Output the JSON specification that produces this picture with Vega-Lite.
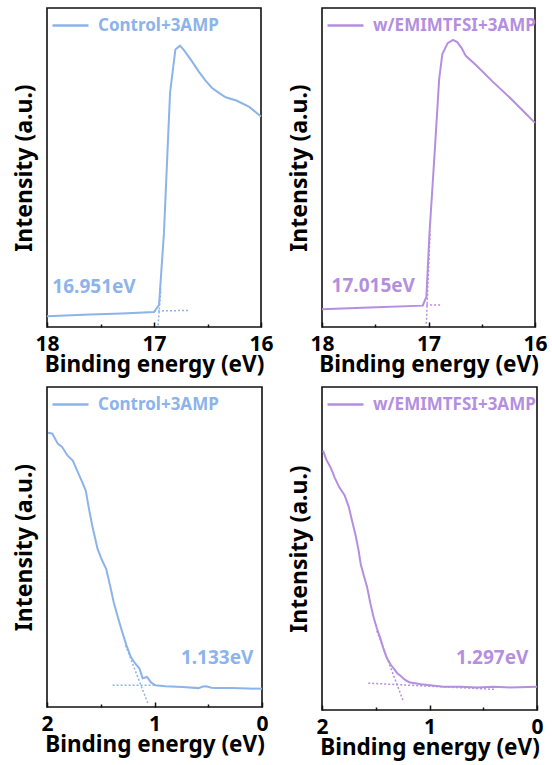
{
  "$schema": "https://vega.github.io/schema/vega-lite/v6.json",
  "padding": {"left": 12, "top": 5, "right": 4, "bottom": 2},
  "background": "white",
  "columns": 2,
  "spacing": {"row": 60, "column": 60},
  "bounds": "flush",
  "resolve": {"scale": {"x": "independent", "y": "independent", "color": "independent"}, "legend": {"color": "independent"}},
  "config": {
    "font": "Noto Sans",
    "view": {"stroke": "#111", "strokeWidth": 1.6},
    "axis": {"grid": false, "domain": false, "labelFont": "Noto Sans", "labelFontSize": 21, "labelFontWeight": "bold", "labelColor": "black", "titleFont": "Noto Sans", "titleFontSize": 22.5, "titleFontWeight": "bold", "titleColor": "black", "tickColor": "#111", "tickWidth": 1.5},
    "axisX": {"labelPadding": 11, "titlePadding": -3, "labelFlush": false, "labelOverlap": false},
    "axisY": {"labels": false, "ticks": false, "titlePadding": 11, "titleFontSize": 23},
    "legend": {"orient": "none", "legendX": 4, "legendY": -2, "padding": 0, "title": null, "labelFontSize": 17, "labelFont": "Noto Sans", "labelFontWeight": "bold", "labelLimit": 0, "symbolType": "stroke", "symbolSize": 1296, "symbolStrokeWidth": 2.5, "labelOffset": 8}
  },
  "datasets": {
    "c1": [
      {"be": 18.0, "i": 3.4, "s": "Control+3AMP"},
      {"be": 17.6, "i": 3.9, "s": "Control+3AMP"},
      {"be": 17.3, "i": 4.2, "s": "Control+3AMP"},
      {"be": 17.0, "i": 4.7, "s": "Control+3AMP"},
      {"be": 16.953, "i": 6.9, "s": "Control+3AMP"},
      {"be": 16.907, "i": 29.5, "s": "Control+3AMP"},
      {"be": 16.85, "i": 73.4, "s": "Control+3AMP"},
      {"be": 16.80, "i": 87.0, "s": "Control+3AMP"},
      {"be": 16.757, "i": 88.2, "s": "Control+3AMP"},
      {"be": 16.72, "i": 86.8, "s": "Control+3AMP"},
      {"be": 16.65, "i": 83.5, "s": "Control+3AMP"},
      {"be": 16.58, "i": 80.0, "s": "Control+3AMP"},
      {"be": 16.52, "i": 77.3, "s": "Control+3AMP"},
      {"be": 16.46, "i": 75.0, "s": "Control+3AMP"},
      {"be": 16.39, "i": 73.3, "s": "Control+3AMP"},
      {"be": 16.33, "i": 72.0, "s": "Control+3AMP"},
      {"be": 16.23, "i": 71.0, "s": "Control+3AMP"},
      {"be": 16.11, "i": 69.0, "s": "Control+3AMP"},
      {"be": 16.0, "i": 66.0, "s": "Control+3AMP"}
    ],
    "f1": [
      {"be": 17.0, "i": 5.0, "seg": "h"},
      {"be": 16.68, "i": 5.2, "seg": "h"},
      {"be": 16.935, "i": 12.0, "seg": "v"},
      {"be": 16.962, "i": 0.5, "seg": "v"}
    ],
    "l1": [{"be": 17.95, "i": 12.5, "t": "16.951eV"}],
    "c2": [
      {"be": 18.0, "i": 5.6, "s": "w/EMIMTFSI+3AMP"},
      {"be": 17.49, "i": 6.2, "s": "w/EMIMTFSI+3AMP"},
      {"be": 17.055, "i": 6.7, "s": "w/EMIMTFSI+3AMP"},
      {"be": 17.02, "i": 9.4, "s": "w/EMIMTFSI+3AMP"},
      {"be": 16.99, "i": 29.8, "s": "w/EMIMTFSI+3AMP"},
      {"be": 16.94, "i": 55.8, "s": "w/EMIMTFSI+3AMP"},
      {"be": 16.90, "i": 77.7, "s": "w/EMIMTFSI+3AMP"},
      {"be": 16.87, "i": 85.6, "s": "w/EMIMTFSI+3AMP"},
      {"be": 16.82, "i": 89.0, "s": "w/EMIMTFSI+3AMP"},
      {"be": 16.77, "i": 90.0, "s": "w/EMIMTFSI+3AMP"},
      {"be": 16.73, "i": 89.3, "s": "w/EMIMTFSI+3AMP"},
      {"be": 16.69, "i": 87.5, "s": "w/EMIMTFSI+3AMP"},
      {"be": 16.65, "i": 85.0, "s": "w/EMIMTFSI+3AMP"},
      {"be": 16.55, "i": 82.0, "s": "w/EMIMTFSI+3AMP"},
      {"be": 16.40, "i": 77.0, "s": "w/EMIMTFSI+3AMP"},
      {"be": 16.24, "i": 72.0, "s": "w/EMIMTFSI+3AMP"},
      {"be": 16.12, "i": 68.0, "s": "w/EMIMTFSI+3AMP"},
      {"be": 16.0, "i": 64.0, "s": "w/EMIMTFSI+3AMP"}
    ],
    "f2": [
      {"be": 17.06, "i": 6.9, "seg": "h"},
      {"be": 16.89, "i": 6.9, "seg": "h"},
      {"be": 16.985, "i": 30.0, "seg": "v"},
      {"be": 17.02, "i": 1.0, "seg": "v"}
    ],
    "l2": [{"be": 17.91, "i": 12.8, "t": "17.015eV"}],
    "c3": [
      {"be": 1.99, "i": 85.7, "s": "Control+3AMP"},
      {"be": 1.95, "i": 85.4, "s": "Control+3AMP"},
      {"be": 1.90, "i": 82.3, "s": "Control+3AMP"},
      {"be": 1.86, "i": 81.3, "s": "Control+3AMP"},
      {"be": 1.81, "i": 78.6, "s": "Control+3AMP"},
      {"be": 1.76, "i": 77.0, "s": "Control+3AMP"},
      {"be": 1.70, "i": 72.4, "s": "Control+3AMP"},
      {"be": 1.64, "i": 67.7, "s": "Control+3AMP"},
      {"be": 1.61, "i": 62.0, "s": "Control+3AMP"},
      {"be": 1.58, "i": 56.8, "s": "Control+3AMP"},
      {"be": 1.53, "i": 49.5, "s": "Control+3AMP"},
      {"be": 1.49, "i": 46.0, "s": "Control+3AMP"},
      {"be": 1.45, "i": 43.2, "s": "Control+3AMP"},
      {"be": 1.41, "i": 37.5, "s": "Control+3AMP"},
      {"be": 1.38, "i": 32.8, "s": "Control+3AMP"},
      {"be": 1.34, "i": 28.0, "s": "Control+3AMP"},
      {"be": 1.30, "i": 23.4, "s": "Control+3AMP"},
      {"be": 1.26, "i": 19.2, "s": "Control+3AMP"},
      {"be": 1.22, "i": 15.6, "s": "Control+3AMP"},
      {"be": 1.18, "i": 13.6, "s": "Control+3AMP"},
      {"be": 1.14, "i": 12.0, "s": "Control+3AMP"},
      {"be": 1.11, "i": 9.0, "s": "Control+3AMP"},
      {"be": 1.07, "i": 9.4, "s": "Control+3AMP"},
      {"be": 1.03, "i": 7.6, "s": "Control+3AMP"},
      {"be": 0.99, "i": 6.8, "s": "Control+3AMP"},
      {"be": 0.90, "i": 6.5, "s": "Control+3AMP"},
      {"be": 0.74, "i": 6.25, "s": "Control+3AMP"},
      {"be": 0.59, "i": 5.9, "s": "Control+3AMP"},
      {"be": 0.55, "i": 6.4, "s": "Control+3AMP"},
      {"be": 0.52, "i": 6.5, "s": "Control+3AMP"},
      {"be": 0.47, "i": 6.0, "s": "Control+3AMP"},
      {"be": 0.43, "i": 5.9, "s": "Control+3AMP"},
      {"be": 0.28, "i": 5.9, "s": "Control+3AMP"},
      {"be": 0.0, "i": 5.7, "s": "Control+3AMP"}
    ],
    "f3": [
      {"be": 1.39, "i": 6.8, "seg": "h"},
      {"be": 0.99, "i": 6.8, "seg": "h"},
      {"be": 1.27, "i": 19.3, "seg": "v"},
      {"be": 1.06, "i": 1.0, "seg": "v"}
    ],
    "l3": [{"be": 0.08, "i": 15.3, "t": "1.133eV"}],
    "c4": [
      {"be": 1.99, "i": 80.3, "s": "w/EMIMTFSI+3AMP"},
      {"be": 1.96, "i": 77.5, "s": "w/EMIMTFSI+3AMP"},
      {"be": 1.92, "i": 75.1, "s": "w/EMIMTFSI+3AMP"},
      {"be": 1.88, "i": 71.8, "s": "w/EMIMTFSI+3AMP"},
      {"be": 1.84, "i": 69.0, "s": "w/EMIMTFSI+3AMP"},
      {"be": 1.79, "i": 66.5, "s": "w/EMIMTFSI+3AMP"},
      {"be": 1.75, "i": 62.8, "s": "w/EMIMTFSI+3AMP"},
      {"be": 1.72, "i": 58.5, "s": "w/EMIMTFSI+3AMP"},
      {"be": 1.69, "i": 54.5, "s": "w/EMIMTFSI+3AMP"},
      {"be": 1.66, "i": 49.5, "s": "w/EMIMTFSI+3AMP"},
      {"be": 1.64, "i": 45.2, "s": "w/EMIMTFSI+3AMP"},
      {"be": 1.61, "i": 41.5, "s": "w/EMIMTFSI+3AMP"},
      {"be": 1.58, "i": 38.0, "s": "w/EMIMTFSI+3AMP"},
      {"be": 1.55, "i": 33.0, "s": "w/EMIMTFSI+3AMP"},
      {"be": 1.52, "i": 28.7, "s": "w/EMIMTFSI+3AMP"},
      {"be": 1.49, "i": 25.3, "s": "w/EMIMTFSI+3AMP"},
      {"be": 1.46, "i": 22.5, "s": "w/EMIMTFSI+3AMP"},
      {"be": 1.43, "i": 19.2, "s": "w/EMIMTFSI+3AMP"},
      {"be": 1.40, "i": 16.3, "s": "w/EMIMTFSI+3AMP"},
      {"be": 1.36, "i": 14.0, "s": "w/EMIMTFSI+3AMP"},
      {"be": 1.33, "i": 12.7, "s": "w/EMIMTFSI+3AMP"},
      {"be": 1.30, "i": 11.4, "s": "w/EMIMTFSI+3AMP"},
      {"be": 1.27, "i": 10.6, "s": "w/EMIMTFSI+3AMP"},
      {"be": 1.23, "i": 9.4, "s": "w/EMIMTFSI+3AMP"},
      {"be": 1.19, "i": 8.6, "s": "w/EMIMTFSI+3AMP"},
      {"be": 1.08, "i": 8.0, "s": "w/EMIMTFSI+3AMP"},
      {"be": 0.87, "i": 7.2, "s": "w/EMIMTFSI+3AMP"},
      {"be": 0.71, "i": 7.2, "s": "w/EMIMTFSI+3AMP"},
      {"be": 0.56, "i": 7.0, "s": "w/EMIMTFSI+3AMP"},
      {"be": 0.40, "i": 7.2, "s": "w/EMIMTFSI+3AMP"},
      {"be": 0.25, "i": 7.0, "s": "w/EMIMTFSI+3AMP"},
      {"be": 0.0, "i": 7.2, "s": "w/EMIMTFSI+3AMP"}
    ],
    "f4": [
      {"be": 1.57, "i": 8.3, "seg": "h"},
      {"be": 0.40, "i": 6.4, "seg": "h"},
      {"be": 1.49, "i": 24.5, "seg": "v"},
      {"be": 1.24, "i": 2.4, "seg": "v"}
    ],
    "l4": [{"be": 0.08, "i": 16.0, "t": "1.297eV"}]
  },
  "concat": [
    {
      "width": 214, "height": 319,
      "layer": [
        {"data": {"name": "f1"}, "mark": {"type": "line", "strokeDash": [2, 2], "strokeWidth": 1.5, "color": "#8cb3ea"},
         "encoding": {"x": {"field": "be", "type": "quantitative"}, "y": {"field": "i", "type": "quantitative"}, "detail": {"field": "seg"}}},
        {"data": {"name": "c1"}, "mark": {"type": "line", "strokeWidth": 2},
         "encoding": {
           "x": {"field": "be", "type": "quantitative", "scale": {"domain": [16, 18], "reverse": true, "nice": false, "zero": false},
                 "axis": {"title": "Binding energy (eV)", "values": [18, 17.5, 17, 16.5, 16], "labelExpr": "datum.value % 1 ? '' : format(datum.value, 'd')", "tickSize": {"condition": {"test": "datum.value % 1", "value": -3}, "value": -5}}},
           "y": {"field": "i", "type": "quantitative", "scale": {"domain": [0, 100], "nice": false}, "axis": {"title": "Intensity (a.u.)"}},
           "color": {"field": "s", "type": "nominal", "scale": {"range": ["#8cb3ea"]}, "legend": {"labelColor": "#8cb3ea"}}
         }},
        {"data": {"name": "l1"}, "mark": {"type": "text", "align": "left", "baseline": "middle", "fontSize": 19, "fontWeight": "bold", "color": "#8cb3ea"},
         "encoding": {"x": {"field": "be", "type": "quantitative"}, "y": {"field": "i", "type": "quantitative"}, "text": {"field": "t"}}}
      ]
    },
    {
      "width": 213, "height": 319,
      "layer": [
        {"data": {"name": "f2"}, "mark": {"type": "line", "strokeDash": [2, 2], "strokeWidth": 1.5, "color": "#b48fe0"},
         "encoding": {"x": {"field": "be", "type": "quantitative"}, "y": {"field": "i", "type": "quantitative"}, "detail": {"field": "seg"}}},
        {"data": {"name": "c2"}, "mark": {"type": "line", "strokeWidth": 2},
         "encoding": {
           "x": {"field": "be", "type": "quantitative", "scale": {"domain": [16, 18], "reverse": true, "nice": false, "zero": false},
                 "axis": {"title": "Binding energy (eV)", "values": [18, 17.5, 17, 16.5, 16], "labelExpr": "datum.value % 1 ? '' : format(datum.value, 'd')", "tickSize": {"condition": {"test": "datum.value % 1", "value": -3}, "value": -5}}},
           "y": {"field": "i", "type": "quantitative", "scale": {"domain": [0, 100], "nice": false}, "axis": {"title": "Intensity (a.u.)"}},
           "color": {"field": "s", "type": "nominal", "scale": {"range": ["#b48fe0"]}, "legend": {"labelColor": "#b48fe0"}}
         }},
        {"data": {"name": "l2"}, "mark": {"type": "text", "align": "left", "baseline": "middle", "fontSize": 19, "fontWeight": "bold", "color": "#b48fe0"},
         "encoding": {"x": {"field": "be", "type": "quantitative"}, "y": {"field": "i", "type": "quantitative"}, "text": {"field": "t"}}}
      ]
    },
    {
      "width": 215, "height": 320,
      "layer": [
        {"data": {"name": "f3"}, "mark": {"type": "line", "strokeDash": [2, 2], "strokeWidth": 1.5, "color": "#8cb3ea"},
         "encoding": {"x": {"field": "be", "type": "quantitative"}, "y": {"field": "i", "type": "quantitative"}, "detail": {"field": "seg"}}},
        {"data": {"name": "c3"}, "mark": {"type": "line", "strokeWidth": 2},
         "encoding": {
           "x": {"field": "be", "type": "quantitative", "scale": {"domain": [0, 2], "reverse": true, "nice": false, "zero": false},
                 "axis": {"title": "Binding energy (eV)", "values": [2, 1.5, 1, 0.5, 0], "labelExpr": "datum.value % 1 ? '' : format(datum.value, 'd')", "tickSize": {"condition": {"test": "datum.value % 1", "value": -3}, "value": -5}}},
           "y": {"field": "i", "type": "quantitative", "scale": {"domain": [0, 100], "nice": false}, "axis": {"title": "Intensity (a.u.)"}},
           "color": {"field": "s", "type": "nominal", "scale": {"range": ["#8cb3ea"]}, "legend": {"labelColor": "#8cb3ea"}}
         }},
        {"data": {"name": "l3"}, "mark": {"type": "text", "align": "right", "baseline": "middle", "fontSize": 19, "fontWeight": "bold", "color": "#8cb3ea"},
         "encoding": {"x": {"field": "be", "type": "quantitative"}, "y": {"field": "i", "type": "quantitative"}, "text": {"field": "t"}}}
      ]
    },
    {
      "width": 215, "height": 323,
      "layer": [
        {"data": {"name": "f4"}, "mark": {"type": "line", "strokeDash": [2, 2], "strokeWidth": 1.5, "color": "#b48fe0"},
         "encoding": {"x": {"field": "be", "type": "quantitative"}, "y": {"field": "i", "type": "quantitative"}, "detail": {"field": "seg"}}},
        {"data": {"name": "c4"}, "mark": {"type": "line", "strokeWidth": 2},
         "encoding": {
           "x": {"field": "be", "type": "quantitative", "scale": {"domain": [0, 2], "reverse": true, "nice": false, "zero": false},
                 "axis": {"title": "Binding energy (eV)", "values": [2, 1.5, 1, 0.5, 0], "labelExpr": "datum.value % 1 ? '' : format(datum.value, 'd')", "tickSize": {"condition": {"test": "datum.value % 1", "value": -3}, "value": -5}}},
           "y": {"field": "i", "type": "quantitative", "scale": {"domain": [0, 100], "nice": false}, "axis": {"title": "Intensity (a.u.)"}},
           "color": {"field": "s", "type": "nominal", "scale": {"range": ["#b48fe0"]}, "legend": {"labelColor": "#b48fe0"}}
         }},
        {"data": {"name": "l4"}, "mark": {"type": "text", "align": "right", "baseline": "middle", "fontSize": 19, "fontWeight": "bold", "color": "#b48fe0"},
         "encoding": {"x": {"field": "be", "type": "quantitative"}, "y": {"field": "i", "type": "quantitative"}, "text": {"field": "t"}}}
      ]
    }
  ]
}
